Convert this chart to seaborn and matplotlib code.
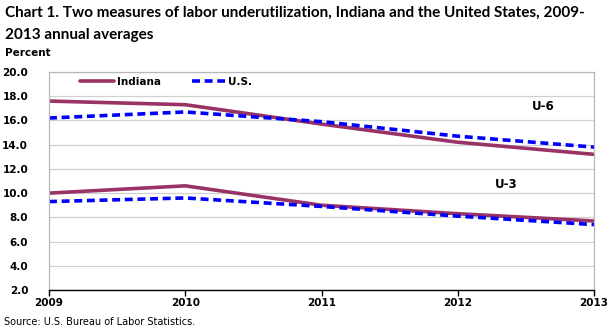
import matplotlib
matplotlib.use("Agg")
import matplotlib.pyplot as plt
import seaborn as sns
import pandas as pd

years = [2009, 2010, 2011, 2012, 2013]
indiana_u6 = [17.6, 17.3, 15.7, 14.2, 13.2]
us_u6 = [16.2, 16.7, 15.9, 14.7, 13.8]
indiana_u3 = [10.0, 10.6, 9.0, 8.3, 7.7]
us_u3 = [9.3, 9.6, 8.9, 8.1, 7.4]
y_ticks = [2.0, 4.0, 6.0, 8.0, 10.0, 12.0, 14.0, 16.0, 18.0, 20.0]

sns.set_theme(style="white")
plt.rcParams['font.family'] = ['DejaVu Sans']
plt.rcParams['text.color'] = 'black'
plt.rcParams['xtick.color'] = 'black'
plt.rcParams['ytick.color'] = 'black'

maroon = "#993366"
blue = "#0000FF"

fig = plt.figure(figsize=(6.16, 3.29), dpi=100)
ax = fig.add_axes([49/616, 1-290/329, (594-49)/616, (290-72)/329])

df = pd.DataFrame({"year": years * 4,
                   "value": indiana_u6 + us_u6 + indiana_u3 + us_u3,
                   "series": ["Indiana"]*5 + ["U.S."]*5 + ["Indiana"]*5 + ["U.S."]*5,
                   "measure": ["U-6"]*10 + ["U-3"]*10})

for meas in ["U-6", "U-3"]:
    d = df[df.measure == meas]
    sns.lineplot(data=d[d.series == "Indiana"], x="year", y="value", ax=ax,
                 color=maroon, lw=2.6, label="Indiana" if meas == "U-6" else None)
    sns.lineplot(data=d[d.series == "U.S."], x="year", y="value", ax=ax,
                 color=blue, lw=2.6, linestyle=(0, (2.2, 1.3)),
                 label="U.S." if meas == "U-6" else None)

ax.set_xlim(2009, 2013)
ax.set_ylim(2.0, 20.0)
ax.set_xticks(years)
ax.set_xticklabels([str(y) for y in years], fontsize=7.5, fontweight="bold")
ax.set_yticks(y_ticks)
ax.set_yticklabels([f"{v:.1f}" for v in y_ticks], fontsize=7.5, fontweight="bold")
ax.grid(axis="y", color="#d0d0d0", lw=0.9)
ax.set_axisbelow(True)
ax.set_xlabel("")
ax.set_ylabel("")
for s in ["top", "right", "left"]:
    ax.spines[s].set_color("#b8b8b8")
    ax.spines[s].set_linewidth(0.9)
ax.spines["bottom"].set_color("black")
ax.spines["bottom"].set_linewidth(1.0)
ax.tick_params(axis="x", bottom=True, length=4, width=1, color="black", pad=2)
ax.tick_params(axis="y", left=False, pad=9)

leg = ax.legend(loc="upper left", bbox_to_anchor=(0.04, 1.02), ncol=2, frameon=False,
                prop={"size": 7.5, "weight": "bold"}, handlelength=3.2, columnspacing=3.0,
                handletextpad=0.3)

ax.text(0.886, 0.84, "U-6", transform=ax.transAxes, fontsize=8.5, fontweight="bold", va="center")
ax.text(0.818, 0.486, "U-3", transform=ax.transAxes, fontsize=8.5, fontweight="bold", va="center")

fig.text(5/616, 1-13/329, "Chart 1. Two measures of labor underutilization, Indiana and the United States, 2009-",
         fontsize=11, fontweight="bold", family="Lato", va="center", ha="left")
fig.text(5/616, 1-35/329, "2013 annual averages", fontsize=11, fontweight="bold", family="Lato",
         va="center", ha="left")
fig.text(5/616, 1-53/329, "Percent", fontsize=7.5, fontweight="bold", va="center", ha="left")
fig.text(4/616, 1-322/329, "Source: U.S. Bureau of Labor Statistics.", fontsize=7, va="center", ha="left")

fig.savefig("out.png", dpi=100)
